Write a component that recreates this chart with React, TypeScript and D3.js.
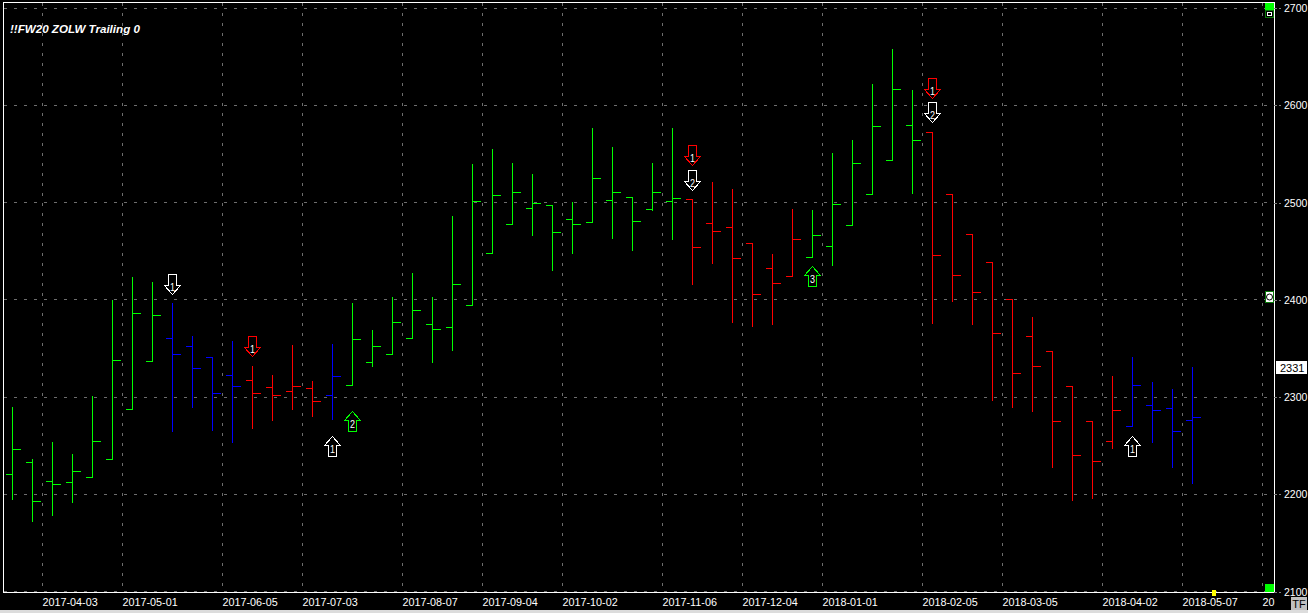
import React, { useEffect, useRef } from "react";
import * as d3 from "d3";

const barHigh = [2290,2236,2254,2242,2301,2400,2424,2418,2397,2363,2341,2358,2332,2323,2354,2317,2355,2397,2369,2403,2428,2403,2486,2540,2555,2541,2529,2497,2501,2577,2557,2505,2541,2577,2503,2521,2514,2458,2447,2494,2493,2551,2564,2622,2658,2616,2572,2508,2467,2438,2400,2382,2347,2311,2275,2322,2341,2316,2308,2331];
const barLow = [2194,2172,2178,2191,2217,2236,2287,2337,2264,2289,2265,2253,2267,2276,2287,2280,2277,2312,2331,2344,2360,2335,2348,2394,2448,2478,2466,2430,2447,2480,2463,2450,2491,2462,2415,2437,2376,2372,2374,2424,2444,2435,2477,2508,2543,2509,2375,2398,2374,2296,2289,2285,2227,2193,2195,2247,2270,2253,2227,2211];
const barOpen = [2221,2233,2213,2212,2217,2236,2287,2337,2360,2352,2341,2322,2317,2310,2306,2309,2302,2312,2336,2344,2360,2375,2372,2394,2448,2478,2494,2497,2483,2480,2502,2505,2493,2501,2503,2479,2475,2458,2432,2424,2444,2455,2477,2508,2543,2579,2572,2508,2467,2438,2400,2362,2347,2311,2275,2254,2270,2291,2288,2276];
const barClose = [2246,2193,2210,2224,2254,2338,2386,2384,2344,2329,2304,2311,2304,2302,2311,2296,2321,2359,2352,2377,2389,2370,2416,2501,2507,2510,2499,2469,2478,2525,2510,2481,2510,2504,2454,2470,2443,2406,2417,2462,2466,2498,2540,2578,2616,2564,2446,2425,2408,2365,2324,2332,2275,2240,2234,2286,2312,2286,2265,2279];
// g = up trend, r = down trend, b = no trend
const barTrend = "ggggggggbbbbrrrrbgggggggggggggggggrrrrrrggggggrrrrrrrrrrbbbb";

const priceTicks = [2100, 2200, 2300, 2400, 2500, 2600, 2700];
const dateTickPos = [1.5, 5.5, 10.5, 14.5, 19.5, 23.5, 27.5, 32.5, 36.5, 40.5, 45.5, 49.5, 54.5, 58.5, 62.5];
const dateTickLabels = ["2017-04-03", "2017-05-01", "2017-06-05", "2017-07-03", "2017-08-07", "2017-09-04", "2017-10-02", "2017-11-06", "2017-12-04", "2018-01-01", "2018-02-05", "2018-03-05", "2018-04-02", "2018-05-07", "20"];

// arrow markers: bar index, tip price, direction, colour, count
const signalBar = [8, 12, 16, 17, 34, 34, 40, 46, 46, 56];
const signalPrice = [2406, 2342, 2260, 2285, 2538, 2513, 2434, 2607, 2582, 2260];
const signalDir = ["down", "down", "up", "up", "down", "down", "up", "down", "down", "up"];
const signalColor = ["#ffffff", "#ff0000", "#ffffff", "#00ff00", "#ff0000", "#ffffff", "#00ff00", "#ff0000", "#ffffff", "#ffffff"];
const signalCount = ["1", "1", "1", "2", "1", "2", "3", "1", "2", "1"];

const lastPrice = 2331;
const title = "!!FW20 ZOLW Trailing 0";

const trendColor: Record<string, string> = { g: "#00ff00", r: "#ff0000", b: "#0000ff" };
const font = "'Liberation Sans', Arial, sans-serif";

const App: React.FC = () => {
    const svgRef = useRef<SVGSVGElement | null>(null);

    useEffect(() => {
        const svg = d3.select(svgRef.current);
        svg.selectAll("*").remove();

        const left = 3.5, right = 1274.5, top = 2.5, bottom = 592.5;
        const x = d3.scaleLinear().domain([0, 59]).range([12.5, 1192.5]);
        const y = d3.scaleLinear().domain([2100, 2700]).range([591.7, 8.2]);

        svg.append("rect").attr("width", 1308).attr("height", 613).attr("fill", "#000");
        svg.append("rect").attr("y", 610).attr("width", 1308).attr("height", 3).attr("fill", "#dcdcdc");

        // grid
        const grid = svg.append("g").attr("stroke", "#6e6e6e").attr("stroke-dasharray", "3 7").attr("shape-rendering", "crispEdges");
        priceTicks.forEach((p) => {
            const py = Math.floor(y(p)) + 0.5;
            grid.append("line").attr("x1", left).attr("x2", right).attr("y1", py).attr("y2", py);
        });
        dateTickPos.forEach((d) => {
            grid.append("line").attr("x1", x(d)).attr("x2", x(d)).attr("y1", top).attr("y2", bottom);
        });

        // ohlc bars
        const bars = svg.append("g").attr("shape-rendering", "crispEdges").attr("fill", "none");
        barHigh.forEach((high, i) => {
            const cx = x(i);
            const color = trendColor[barTrend[i]];
            const path = d3.path();
            path.moveTo(cx, y(high));
            path.lineTo(cx, y(barLow[i]));
            path.moveTo(cx - 7, Math.floor(y(barOpen[i])) + 0.5);
            path.lineTo(cx, Math.floor(y(barOpen[i])) + 0.5);
            path.moveTo(cx, Math.floor(y(barClose[i])) + 0.5);
            path.lineTo(cx + 8, Math.floor(y(barClose[i])) + 0.5);
            bars.append("path").attr("d", path.toString()).attr("stroke", color);
        });

        // signal arrows
        signalBar.forEach((b, i) => {
            const cx = x(b);
            const tip = Math.floor(y(signalPrice[i])) + 0.5;
            const s = signalDir[i] === "down" ? -1 : 1;
            const p = d3.path();
            p.moveTo(cx, tip);
            p.lineTo(cx + 8, tip + s * 9);
            p.lineTo(cx + 4, tip + s * 9);
            p.lineTo(cx + 4, tip + s * 20);
            p.lineTo(cx - 4, tip + s * 20);
            p.lineTo(cx - 4, tip + s * 9);
            p.lineTo(cx - 8, tip + s * 9);
            p.closePath();
            svg.append("path").attr("d", p.toString()).attr("fill", "#000").attr("stroke", signalColor[i])
                .attr("shape-rendering", "crispEdges");
            svg.append("text").attr("x", cx).attr("y", s > 0 ? tip + 16 : tip - 4)
                .attr("text-anchor", "middle").attr("fill", "#fff")
                .attr("textLength", 5).attr("lengthAdjust", "spacingAndGlyphs")
                .style("font", `11px ${font}`).text(signalCount[i]);
        });

        // frame
        svg.append("path")
            .attr("d", `M${left},${bottom}V${top}H${right}V${bottom}H${left}`)
            .attr("fill", "none").attr("stroke", "#fff").attr("shape-rendering", "crispEdges");

        // axes
        const yAxis = svg.append("g").attr("transform", `translate(${right - 0.5},0)`)
            .call(d3.axisRight(y).tickValues(priceTicks).tickSize(7).tickPadding(3).tickFormat((d) => String(d)));
        yAxis.select(".domain").remove();
        yAxis.selectAll("line").attr("stroke", "#808080").attr("stroke-dasharray", "3 2").attr("shape-rendering", "crispEdges");
        yAxis.selectAll("text").attr("fill", "#fff").style("font", `10.5px ${font}`);

        const xAxis = svg.append("g").attr("transform", `translate(-0.5,${bottom})`)
            .call(d3.axisBottom(x).tickValues(dateTickPos).tickSize(0).tickPadding(5.5)
                .tickFormat((_, i) => dateTickLabels[i]));
        xAxis.select(".domain").remove();
        xAxis.selectAll("text").attr("fill", "#fff").attr("text-anchor", "start")
            .style("font", `10.8px ${font}`);

        // title
        svg.append("text").attr("x", 10).attr("y", 33).attr("fill", "#fff")
            .style("font", `italic bold 11.6px ${font}`).text(title);

        // scroll handles on the price axis
        const green = "#00ff00";
        const handleGreen = "#0a7a0a";
        svg.append("rect").attr("x", 1265).attr("y", 3).attr("width", 9).attr("height", 7).attr("fill", green);
        svg.append("rect").attr("x", 1265.5).attr("y", 10.5).attr("width", 8).attr("height", 7).attr("fill", "#000").attr("stroke", handleGreen);
        svg.append("rect").attr("x", 1267.5).attr("y", 12.5).attr("width", 4).attr("height", 3).attr("fill", "none").attr("stroke", "#fff");
        svg.append("rect").attr("x", 1265.5).attr("y", 291.5).attr("width", 8).attr("height", 11).attr("fill", "#fff").attr("stroke", handleGreen);
        svg.append("circle").attr("cx", 1269.5).attr("cy", 297).attr("r", 3).attr("fill", "#fff").attr("stroke", "#000");
        svg.append("rect").attr("x", 1265).attr("y", 584).attr("width", 9).attr("height", 8).attr("fill", green);
        svg.append("rect").attr("x", 1212).attr("y", 590).attr("width", 4).attr("height", 6).attr("fill", "#ffff00");

        // last price flag
        svg.append("rect").attr("x", 1276).attr("y", 361).attr("width", 31).attr("height", 13).attr("fill", "#fff");
        svg.append("text").attr("x", 1280).attr("y", 372).attr("fill", "#000")
            .style("font", `11px ${font}`).text(String(lastPrice));

        // timeframe button
        svg.append("rect").attr("x", 1291).attr("y", 597).attr("width", 16).attr("height", 13).attr("fill", "#c0c0c0");
        svg.append("text").attr("x", 1299).attr("y", 607.5).attr("text-anchor", "middle").attr("fill", "#000")
            .style("font", `11px ${font}`).text("TF");
    }, []);

    return (
        <svg ref={svgRef} width={1308} height={613}
            style={{ position: "fixed", left: 0, top: 0, display: "block" }}></svg>
    );
};

export default App;
